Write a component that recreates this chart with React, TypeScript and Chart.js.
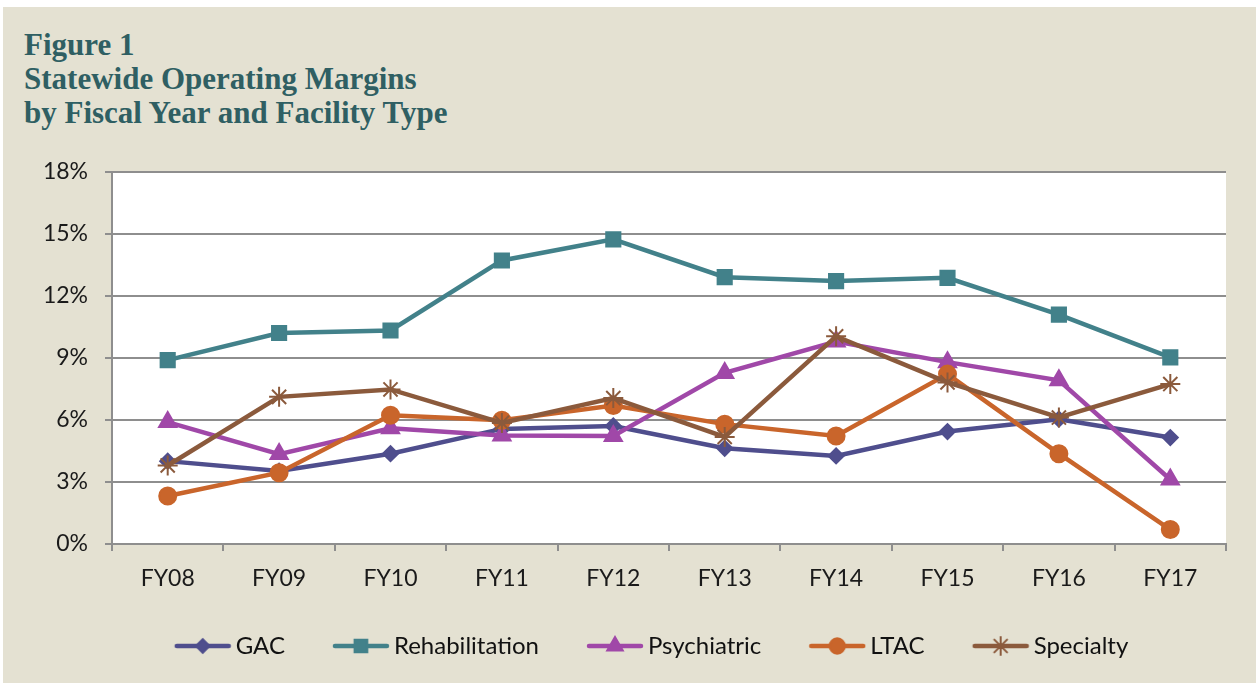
import React, { useEffect, useRef } from 'react';
import { Chart, registerables } from 'chart.js';
import { drawPoint } from 'chart.js/helpers';

Chart.register(...registerables);

const categories = ['FY08', 'FY09', 'FY10', 'FY11', 'FY12', 'FY13', 'FY14', 'FY15', 'FY16', 'FY17'];
const gac = [4.01, 3.53, 4.37, 5.57, 5.71, 4.63, 4.26, 5.44, 6.04, 5.15];
const rehabilitation = [8.9, 10.21, 10.33, 13.72, 14.74, 12.91, 12.72, 12.88, 11.1, 9.03];
const psychiatric = [5.9, 4.35, 5.6, 5.25, 5.23, 8.28, 9.8, 8.8, 7.92, 3.12];
const ltac = [2.32, 3.45, 6.23, 5.99, 6.7, 5.8, 5.23, 8.22, 4.37, 0.7];
const specialty = [3.8, 7.12, 7.48, 5.86, 7.06, 5.18, 10.05, 7.82, 6.12, 7.74];
const yTickValues = [0, 3, 6, 9, 12, 15, 18];

const seriesNames = ['GAC', 'Rehabilitation', 'Psychiatric', 'LTAC', 'Specialty'];
const seriesValues = [gac, rehabilitation, psychiatric, ltac, specialty];
const seriesColors = ['#4F4E8D', '#42818A', '#A048A8', '#C9652B', '#8B5A3C'];
const seriesStyles = ['rectRot', 'rect', 'triangle', 'circle', 'star'];
const seriesRadius = [7.5, 10, 10, 8.5, 10];

const ICON_BLANK = 45;

function legendIcon(i: number): HTMLCanvasElement {
  const c = document.createElement('canvas');
  c.width = 58 + ICON_BLANK;
  c.height = 26;
  const ctx = c.getContext('2d')!;
  ctx.strokeStyle = seriesColors[i];
  ctx.fillStyle = seriesColors[i];
  ctx.lineWidth = 4.5;
  ctx.lineCap = 'round';
  ctx.beginPath();
  ctx.moveTo(ICON_BLANK + 3, 13);
  ctx.lineTo(ICON_BLANK + 55, 13);
  ctx.stroke();
  ctx.lineWidth = 2;
  drawPoint(
    ctx,
    { pointStyle: seriesStyles[i] as any, radius: seriesRadius[i] * 0.9, borderWidth: 2, rotation: 0 },
    ICON_BLANK + 29,
    13
  );
  return c;
}

const plotBg = {
  id: 'plotBg',
  beforeDraw(chart: any) {
    const { ctx, chartArea } = chart;
    ctx.save();
    ctx.fillStyle = '#ffffff';
    ctx.fillRect(chartArea.left, chartArea.top, chartArea.right - chartArea.left, chartArea.bottom - chartArea.top);
    ctx.restore();
  },
};

export default function App() {
  const ref = useRef<HTMLCanvasElement>(null);

  useEffect(() => {
    document.body.style.margin = '0';
    const icons = seriesNames.map((_, i) => legendIcon(i));
    const chart = new Chart(ref.current!, {
      type: 'line',
      data: {
        labels: categories,
        datasets: seriesNames.map((name, i) => ({
          label: name,
          data: seriesValues[i],
          borderColor: seriesColors[i],
          backgroundColor: seriesColors[i],
          borderWidth: 4.5,
          pointStyle: seriesStyles[i] as any,
          pointRadius: seriesRadius[i],
          pointBorderWidth: 2,
          pointBorderColor: seriesColors[i],
          pointBackgroundColor: seriesColors[i],
          tension: 0,
          order: seriesNames.length - i,
        })),
      },
      options: {
        animation: false,
        responsive: false,
        devicePixelRatio: 1,
        layout: { padding: { top: 165, left: 36, right: 30, bottom: 15 } },
        plugins: {
          tooltip: { enabled: false },
          legend: {
            position: 'bottom',
            labels: {
              usePointStyle: true,
              pointStyleWidth: 42 + ICON_BLANK,
              padding: 10,
              color: '#111111',
              font: { family: 'Lato', size: 24 },
              generateLabels: () =>
                seriesNames.map((name, i) => ({
                  text: name,
                  pointStyle: icons[i] as any,
                  fillStyle: seriesColors[i],
                  strokeStyle: seriesColors[i],
                  lineWidth: 0,
                  hidden: false,
                  datasetIndex: i,
                  fontColor: '#111111',
                })),
            },
          },
        },
        scales: {
          x: {
            offset: true,
            afterFit: (s: any) => {
              s.height = 80;
            },
            grid: {
              offset: true,
              drawOnChartArea: false,
              drawTicks: true,
              tickLength: 7,
              color: '#8E8E8E',
              lineWidth: 2,
            },
            border: { color: '#8E8E8E', width: 2 },
            ticks: {
              color: '#1a1a1a',
              font: { family: 'Lato', size: 23 },
              padding: 14,
              maxRotation: 0,
            },
          },
          y: {
            min: 0,
            max: 18,
            afterFit: (s: any) => {
              s.width = 73;
            },
            afterBuildTicks: (s: any) => {
              s.ticks = yTickValues.map((v) => ({ value: v }));
            },
            grid: {
              color: '#8E8E8E',
              lineWidth: 2,
              tickLength: 7,
            },
            border: { color: '#8E8E8E', width: 2 },
            ticks: {
              color: '#1a1a1a',
              font: { family: 'Lato', size: 23 },
              padding: 17,
              callback: (v: any) => v + '%',
            },
          },
        },
      },
      plugins: [plotBg],
    });
    return () => chart.destroy();
  }, []);

  return (
    <div
      style={{
        position: 'absolute',
        left: 3,
        top: 7,
        width: 1253,
        height: 676,
        background: '#E4E1D2',
        overflow: 'hidden',
      }}
    >
      <div
        style={{
          position: 'absolute',
          left: 21,
          top: 21,
          fontFamily: '"Liberation Serif", serif',
          fontWeight: 'bold',
          fontSize: 31,
          lineHeight: '34px',
          color: '#2F5F63',
          whiteSpace: 'nowrap',
        }}
      >
        <div>Figure 1</div>
        <div>Statewide Operating Margins</div>
        <div>by Fiscal Year and Facility Type</div>
      </div>
      <canvas ref={ref} width={1253} height={676} style={{ position: 'absolute', left: 0, top: 0 }} />
    </div>
  );
}
